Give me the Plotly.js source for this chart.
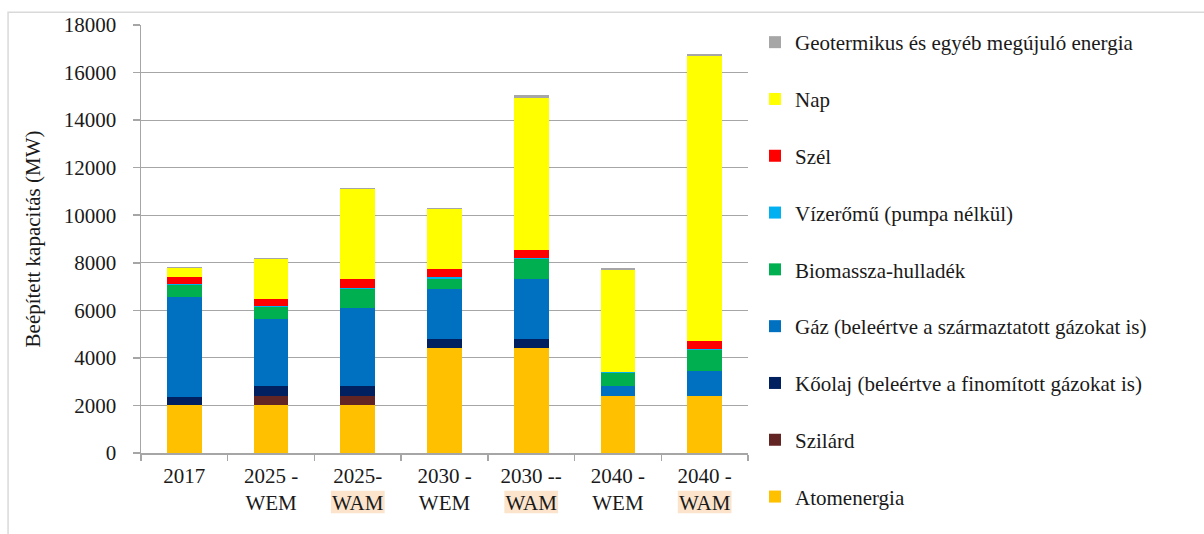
<!DOCTYPE html>
<html>
<head>
<meta charset="utf-8">
<script src="https://cdn.plot.ly/plotly-3.0.1.min.js"></script>
<style>
html,body{margin:0;padding:0;background:#fff;}
#chart{width:1204px;height:534px;}
</style>
</head>
<body>
<div id="chart"></div>
<script>
// Categories (x tick labels)
const categories = ["2017", "2025 -<br>WEM", "2025-<br>WAM", "2030 -<br>WEM", "2030 --<br>WAM", "2040 -<br>WEM", "2040 -<br>WAM"];

// Series values (MW), bottom to top of each stack
const atomenergia = [2000, 2000, 2000, 4400, 4400, 2400, 2400];
const szilard     = [0, 400, 400, 0, 0, 0, 0];
const koolaj      = [360, 410, 410, 390, 380, 0, 0];
const gaz         = [4180, 2820, 3270, 2120, 2530, 420, 1060];
const biomassza   = [520, 490, 810, 420, 830, 530, 870];
const vizeromu    = [60, 60, 60, 60, 60, 60, 60];
const szel        = [290, 300, 360, 340, 330, 0, 330];
const nap         = [380, 1690, 3790, 2530, 6400, 4280, 11960];
const geotermikus = [20, 30, 30, 30, 110, 70, 110];

const seriesNames = [
  "Atomenergia",
  "Szilárd",
  "Kőolaj (beleértve a finomított gázokat is)",
  "Gáz (beleértve a származtatott gázokat is)",
  "Biomassza-hulladék",
  "Vízerőmű (pumpa nélkül)",
  "Szél",
  "Nap",
  "Geotermikus és egyéb megújuló energia"
];
const seriesValues = [atomenergia, szilard, koolaj, gaz, biomassza, vizeromu, szel, nap, geotermikus];
const seriesColors = ["#FFC000", "#632523", "#002060", "#0070C0", "#00B050", "#00B0F0", "#FF0000", "#FFFF00", "#A6A6A6"];

const FONT = "Liberation Serif, DejaVu Serif, Times New Roman, serif";

const traces = seriesNames.map((name, i) => ({
  type: "bar",
  name: name,
  x: categories,
  y: seriesValues[i],
  legendgroup: "g" + i,
  legendrank: 100 - i,
  marker: {color: seriesColors[i], line: {width: 0}},
  hoverinfo: "x+y+name"
}));

// highlight boxes behind the "WAM" labels
const shapes = [];
categories.forEach((c, i) => {
  if (c.indexOf("WAM") >= 0) {
    shapes.push({
      type: "rect", layer: "below",
      xref: "x", yref: "paper",
      x0: i - 0.31, x1: i + 0.31,
      y0: -0.141, y1: -0.088,
      fillcolor: "#FCE4CC", line: {width: 0}
    });
  }
});
// chart area border (top and left edges visible)
shapes.push({
  type: "rect", layer: "below",
  xref: "paper", yref: "paper",
  x0: -0.219, x1: 1.9, y0: -0.4, y1: 1.03,
  line: {color: "#D9D9D9", width: 1.5}, fillcolor: "rgba(0,0,0,0)"
});

const layout = {
  width: 1204, height: 534,
  margin: {l: 141, r: 456, t: 25, b: 81},
  paper_bgcolor: "#ffffff",
  plot_bgcolor: "#ffffff",
  barmode: "stack",
  bargap: 0.6,
  font: {family: FONT, size: 21, color: "#1a1a1a"},
  showlegend: true,
  legend: {
    x: 1.0115, y: 1.007, xanchor: "left", yanchor: "top",
    traceorder: "grouped",
    tracegroupgap: 26.5,
    maxheight: 1,
    font: {family: FONT, size: 21, color: "#1a1a1a"},
    bgcolor: "rgba(0,0,0,0)"
  },
  xaxis: {
    type: "category",
    showline: true, linecolor: "#A6A6A6", linewidth: 1.5,
    ticks: "outside", tickson: "boundaries", ticklen: 6, tickcolor: "#A6A6A6", tickwidth: 1.5,
    showgrid: false,
    ticklabelstandoff: 3,
    tickfont: {family: FONT, size: 21, color: "#1a1a1a"},
    fixedrange: true
  },
  yaxis: {
    range: [0, 18000], dtick: 2000, tick0: 0,
    tickformat: "d",
    showline: true, linecolor: "#A6A6A6", linewidth: 1.5,
    ticks: "outside", ticklen: 7, tickcolor: "#A6A6A6", tickwidth: 1.5,
    showgrid: true, gridcolor: "#A6A6A6", gridwidth: 1.2,
    zeroline: false,
    ticklabelstandoff: 12,
    tickfont: {family: FONT, size: 21, color: "#1a1a1a"},
    title: {text: "Beépített kapacitás (MW)", font: {family: FONT, size: 21, color: "#1a1a1a"}, standoff: 17},
    fixedrange: true
  },
  shapes: shapes
};

Plotly.newPlot("chart", traces, layout, {displayModeBar: false, staticPlot: true});
</script>
</body>
</html>
